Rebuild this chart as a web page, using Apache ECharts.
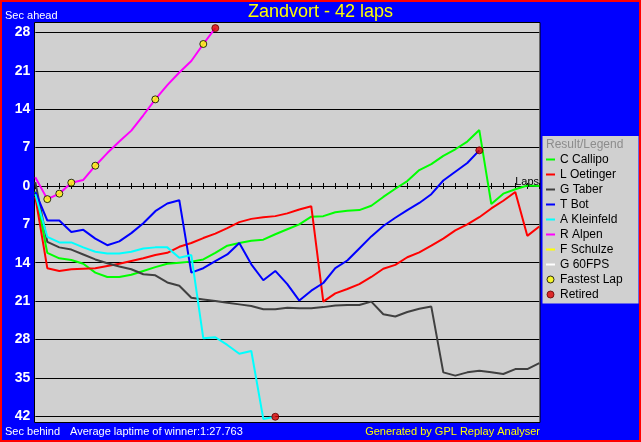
<!DOCTYPE html>
<html>
<head>
<meta charset="utf-8">
<title>Zandvort - 42 laps</title>
<script src="https://cdn.jsdelivr.net/npm/echarts@6/dist/echarts.min.js"></script>
<style>
  html, body { margin: 0; padding: 0; background: #0000ff; }
  #chart { width: 641px; height: 442px; }
</style>
</head>
<body>
<div id="chart"></div>
<script>
const FONT = 'Liberation Sans, Arial, sans-serif'

const laps = 42
const drivers = ['C Callipo', 'L Oetinger', 'G Taber', 'T Bot', 'A Kleinfeld', 'R Alpen', 'F Schulze', 'G 60FPS']
const driverColors = ['#00ff00', '#ff0000', '#404040', '#0000ff', '#00ffff', '#ff00ff', '#ffff00', '#ffffff']

// sec ahead (+) / behind (-) the winner's average lap, lap 0 .. last lap driven
const callipo = [-1.0, -12.2, -13.2, -13.5, -14.2, -15.8, -16.6, -16.6, -16.2, -15.5, -14.8,
  -14.2, -14.0, -13.8, -13.4, -12.2, -10.9, -10.4, -10.0, -9.8, -8.8,
  -7.9, -7.0, -5.6, -5.5, -4.8, -4.5, -4.4, -3.6, -2.0, -0.5,
  0.9, 2.9, 4.0, 5.5, 6.7, 8.1, 10.2, -3.3, -1.4, -0.6, 0.1, 0]
const oetinger = [-2.0, -15.0, -15.5, -15.2, -15.1, -15.0, -14.6, -14.2, -13.7, -13.2, -12.6,
  -12.2, -11.1, -10.4, -9.5, -8.7, -7.7, -6.6, -6.0, -5.7, -5.5,
  -5.0, -4.3, -3.7, -21.1, -19.6, -18.8, -17.9, -16.6, -15.1, -14.4,
  -13.0, -12.1, -10.9, -9.6, -8.1, -7.0, -5.7, -4.1, -2.7, -1.1, -9.1, -7.4]
const taber = [0.7, -10.2, -11.2, -11.6, -12.5, -13.4, -14.1, -14.7, -15.2, -16.1, -16.3,
  -17.6, -18.2, -20.4, -20.7, -21.0, -21.3, -21.6, -21.9, -22.5, -22.5,
  -22.2, -22.3, -22.3, -22.1, -21.8, -21.7, -21.7, -21.1, -23.4, -23.8,
  -23.0, -22.4, -22.0, -34.0, -34.6, -34.0, -33.7, -34.0, -34.3, -33.4, -33.4, -32.3]
const bot = [-1.1, -6.3, -6.3, -8.4, -8.0, -9.6, -10.8, -10.1, -8.6, -6.8, -4.6,
  -3.2, -2.6, -15.8, -15.0, -13.7, -12.5, -10.4, -14.3, -17.2, -15.5,
  -17.9, -20.9, -19.1, -17.7, -15.0, -13.6, -11.4, -9.2, -7.3, -5.8,
  -4.4, -3.1, -1.5, 1.0, 2.6, 4.2, 6.5]
const kleinfeld = [-1.5, -9.3, -10.3, -10.3, -11.2, -12.0, -12.3, -12.3, -12.0, -11.4, -11.2,
  -11.2, -13.1, -12.6, -27.8, -27.6, -29.0, -30.6, -30.1, -42.5, -42.1]
const alpen = [1.6, -2.4, -1.4, 0.6, 1.1, 3.7, 6.0, 8.1, 10.1, 12.9, 15.8,
  18.4, 20.7, 22.8, 25.9, 28.8]
const schulze = []
const fps60 = []
const results = [callipo, oetinger, taber, bot, kleinfeld, alpen, schulze, fps60]

// laps on which R Alpen set a new fastest lap
const fastestLapLaps = [1, 2, 3, 5, 10, 14]

const LINE_ICON = 'path://M0,0H9V2H0Z'

const lineSeries = drivers.map((name, k) => ({
  name,
  type: 'line',
  data: results[k].map((v, lap) => [lap, v]),
  symbol: 'none',
  clip: false,
  lineStyle: { color: driverColors[k], width: 2 },
  itemStyle: { color: driverColors[k] },
  emphasis: { disabled: true },
}))

const retiredPoints = results
  .filter((r) => r.length > 0 && r.length <= laps)
  .map((r) => [r.length - 1, r[r.length - 1]])

const markerSeries = [
  {
    name: 'Fastest Lap',
    type: 'scatter',
    data: fastestLapLaps.map((lap) => [lap, alpen[lap]]),
    symbol: 'circle',
    symbolSize: 7,
    clip: false,
    z: 5,
    itemStyle: { color: '#ffff00', borderColor: '#000000', borderWidth: 1 },
    emphasis: { disabled: true },
  },
  {
    name: 'Retired',
    type: 'scatter',
    data: retiredPoints,
    symbol: 'circle',
    symbolSize: 7,
    clip: false,
    z: 5,
    itemStyle: { color: '#e00000', borderColor: '#600000', borderWidth: 1 },
    emphasis: { disabled: true },
  },
]

const xAxisBase = {
  type: 'value',
  min: 0,
  max: laps,
  interval: 1,
  axisTick: { show: true, length: 3, lineStyle: { color: '#000', width: 1 } },
  axisLabel: { show: false },
  splitLine: { show: false },
}

const yAxisBase = {
  type: 'value',
  min: -42,
  max: 28,
  interval: 7,
  axisLine: { show: false },
  axisTick: { show: false },
}

const smallText = (x, y, text, color, align) => ({
  type: 'text',
  x, y,
  z: 10,
  style: { text, fill: color, font: `11px ${FONT}`, textAlign: align || 'left', textVerticalAlign: 'middle' },
})

const chart = echarts.init(document.getElementById('chart'))
chart.setOption({
  animation: false,
  backgroundColor: '#0000ff',
  title: {
    text: 'Zandvort - 42 laps',
    left: 'center',
    top: 3,
    padding: 0,
    textStyle: { color: '#ffff00', fontSize: 18, fontWeight: 'normal', fontFamily: FONT },
  },
  grid: { left: 35.3, right: 101.7, top: 32.5, bottom: 25.8, outerBoundsMode: 'none' },
  // two axes on the zero line: one with ticks down, one with ticks up
  xAxis: [
    { ...xAxisBase, position: 'bottom',
      axisLine: { onZero: true, onZeroAxisIndex: 0, lineStyle: { color: '#000', width: 1 } } },
    { ...xAxisBase, position: 'top',
      axisLine: { onZero: true, onZeroAxisIndex: 1, lineStyle: { color: '#000', width: 1 } } },
  ],
  yAxis: [
    {
      ...yAxisBase,
      axisLabel: {
        color: '#ffffff', fontSize: 14, fontWeight: 'bold', fontFamily: FONT, margin: 5,
        formatter: (v) => String(Math.abs(v)),
      },
      splitLine: { lineStyle: { color: '#000', width: 1 } },
    },
    { ...yAxisBase, position: 'right', axisLabel: { show: false }, splitLine: { show: false } },
  ],
  legend: {
    orient: 'vertical',
    left: 546,
    top: 153,
    padding: 0,
    itemGap: 2,
    itemWidth: 9,
    itemHeight: 7,
    selectedMode: false,
    itemStyle: { borderWidth: 0 },
    textStyle: { color: '#000', fontSize: 12, fontFamily: FONT, lineHeight: 13 },
    data: [
      ...drivers.map((name) => ({ name, icon: LINE_ICON })),
      { name: 'Fastest Lap', icon: 'circle', itemStyle: { borderWidth: 1, borderColor: '#000000' } },
      { name: 'Retired', icon: 'circle', itemStyle: { borderWidth: 1, borderColor: '#600000' } },
    ],
  },
  graphic: [
    { type: 'rect', z: -10, shape: { x: 34.5, y: 22.5, width: 505.5, height: 400 },
      style: { fill: '#d0d0d0', stroke: '#000', lineWidth: 1 } },
    { type: 'rect', z: -10, shape: { x: 542.5, y: 136, width: 96, height: 167.5 },
      style: { fill: '#d0d0d0' } },
    { type: 'rect', z: 20, shape: { x: 1, y: 1, width: 639, height: 440 },
      style: { fill: 'none', stroke: '#ff0000', lineWidth: 2 } },
    { type: 'text', x: 546, y: 145, z: 10,
      style: { text: 'Result/Legend', fill: '#8c8c8c', font: `12px ${FONT}`, textVerticalAlign: 'middle' } },
    smallText(5, 16, 'Sec ahead', '#ffffff'),
    smallText(5, 432, 'Sec behind', '#ffffff'),
    smallText(70, 432, 'Average laptime of winner:1:27.763', '#ffffff'),
    smallText(540, 432, 'Generated by GPL Replay Analyser', '#ffff00', 'right'),
    { type: 'text', x: 539, y: 187, z: 10,
      style: { text: 'Laps', fill: '#000', font: `11px ${FONT}`, textAlign: 'right', textVerticalAlign: 'bottom' } },
  ],
  series: [...lineSeries, ...markerSeries],
})
</script>
</body>
</html>
